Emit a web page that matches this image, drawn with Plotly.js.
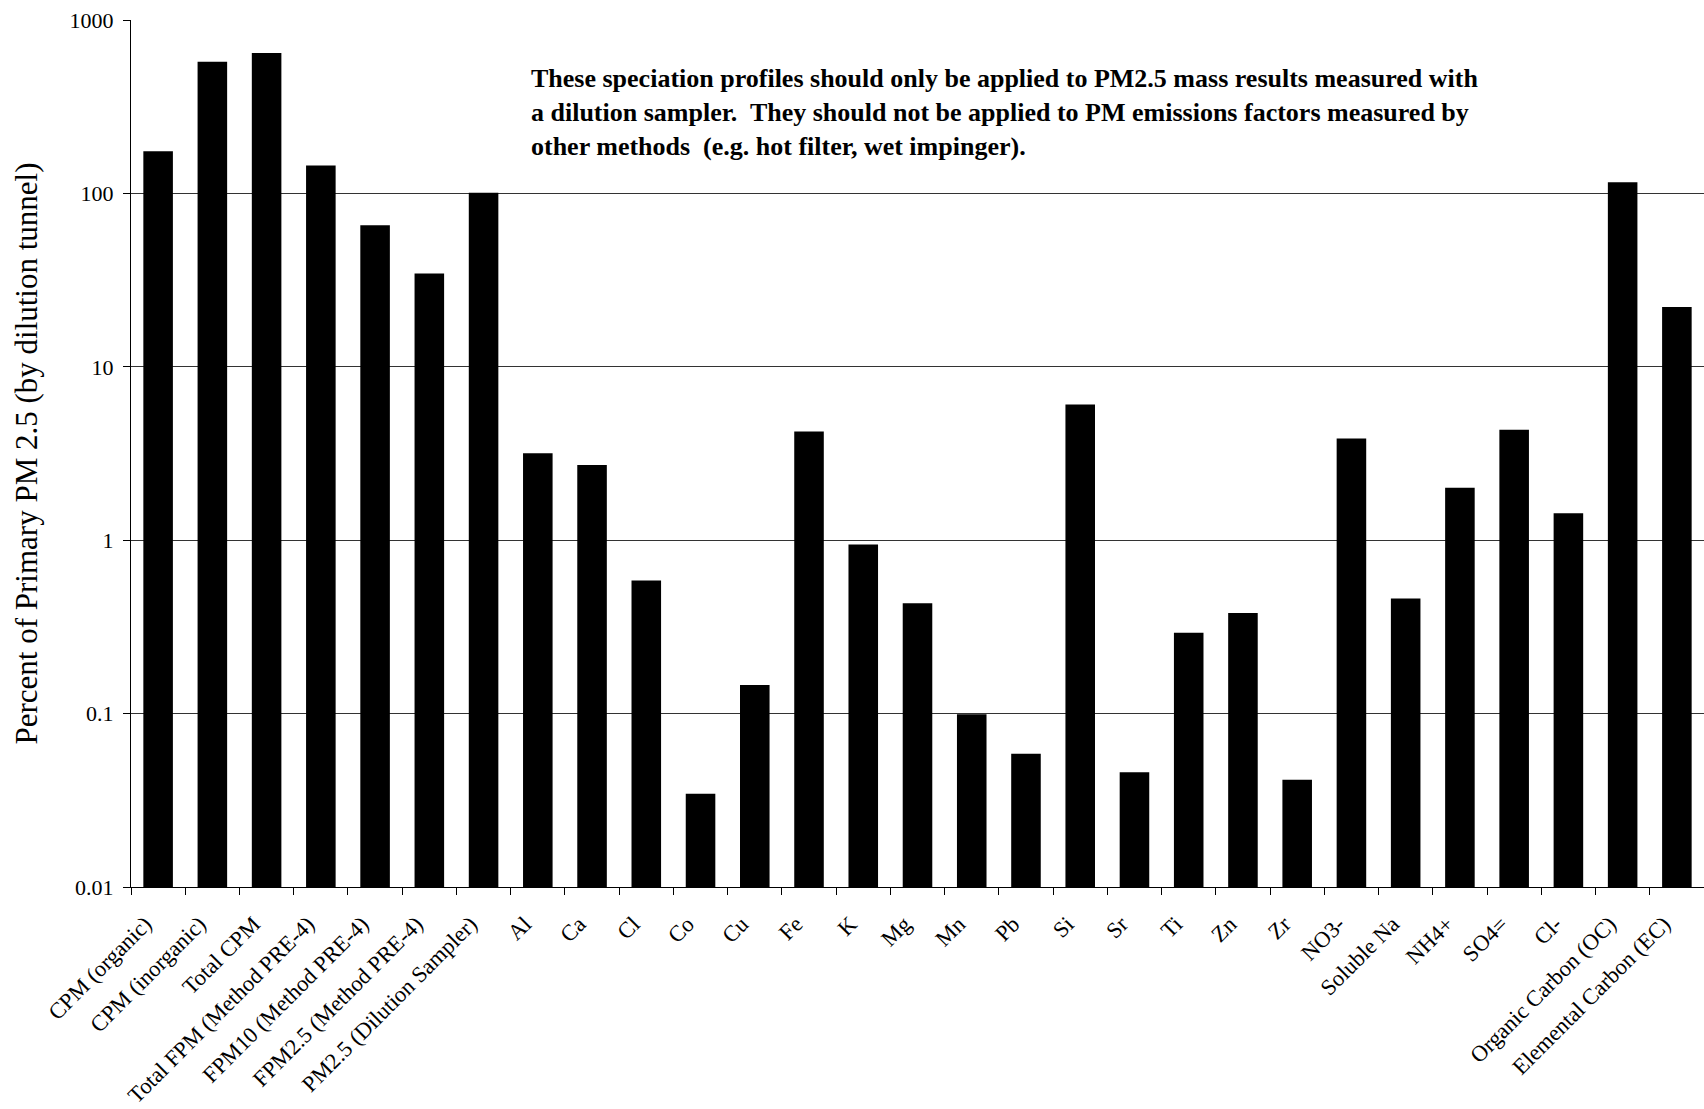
<!DOCTYPE html>
<html>
<head>
<meta charset="utf-8">
<script src="https://cdn.plot.ly/plotly-3.0.1.min.js"></script>
<style>
  html, body { margin: 0; padding: 0; background: #fff; }
  #chart { width: 1704px; height: 1109px; }
</style>
</head>
<body>
<div id="chart"></div>
<script>
// Speciation profile: species categories and their share of primary PM2.5 (%)
const categories = [
  "CPM (organic)", "CPM (inorganic)", "Total CPM", "Total FPM (Method PRE-4)",
  "FPM10 (Method PRE-4)", "FPM2.5 (Method PRE-4)", "PM2.5 (Dilution Sampler)",
  "Al", "Ca", "Cl", "Co", "Cu", "Fe", "K", "Mg", "Mn", "Pb", "Si", "Sr", "Ti",
  "Zn", "Zr", "NO3-", "Soluble Na", "NH4+", "SO4=", "Cl-",
  "Organic Carbon (OC)", "Elemental Carbon (EC)"
];

const percentOfPM25 = [
  175, 574, 645, 145, 65.5, 34.5, 101,
  3.17, 2.71, 0.586, 0.0345, 0.146, 4.23, 0.944, 0.433, 0.099, 0.0587, 6.07,
  0.0459, 0.293, 0.38, 0.0415, 3.86, 0.461, 2.01, 4.33, 1.43,
  116, 22.1
];

const yTickValues = [0.01, 0.1, 1, 10, 100, 1000];
const yTickLabels = ["0.01", "0.1", "1", "10", "100", "1000"];

const noteText =
  "<b>These speciation profiles should only be applied to PM2.5 mass results measured with<br>" +
  "a dilution sampler.  They should not be applied to PM emissions factors measured by<br>" +
  "other methods  (e.g. hot filter, wet impinger).</b>";

const serif = "\"Liberation Serif\", \"Times New Roman\", Times, serif";

const trace = {
  type: "bar",
  x: categories,
  y: percentOfPM25,
  marker: { color: "#000000", line: { width: 0 } },
  hoverinfo: "x+y"
};

const layout = {
  width: 1704,
  height: 1109,
  margin: { l: 131, r: 0, t: 20, b: 222, pad: 0 },
  paper_bgcolor: "#ffffff",
  plot_bgcolor: "#ffffff",
  showlegend: false,
  bargap: 0.455,
  font: { family: serif, color: "#000000", size: 22 },
  xaxis: {
    type: "category",
    tickangle: -45,
    ticks: "outside",
    tickson: "boundaries",
    ticklen: 7,
    tickcolor: "#000000",
    tickwidth: 1,
    ticklabelstandoff: 14,
    ticklabelshift: -13,
    showline: true,
    linecolor: "#000000",
    linewidth: 1,
    showgrid: false,
    zeroline: false,
    automargin: false,
    tickfont: { family: serif, size: 22.5, color: "#000000" }
  },
  yaxis: {
    type: "log",
    range: [-2, 3],
    tickvals: yTickValues,
    ticktext: yTickLabels,
    ticks: "outside",
    ticklen: 7,
    tickcolor: "#000000",
    tickwidth: 1,
    ticklabelstandoff: 5,
    showline: true,
    linecolor: "#000000",
    linewidth: 1,
    showgrid: true,
    gridcolor: "#333333",
    gridwidth: 1,
    zeroline: false,
    automargin: false,
    tickfont: { family: serif, size: 22, color: "#000000" },
    title: {
      text: "Percent of Primary PM 2.5 (by dilution tunnel)",
      font: { family: serif, size: 31, color: "#000000" },
      standoff: 22
    }
  },
  annotations: [{
    xref: "paper",
    yref: "paper",
    x: (529 - 131) / 1573,
    y: 1 - (62 - 20) / 867,
    xanchor: "left",
    yanchor: "top",
    align: "left",
    showarrow: false,
    text: noteText,
    font: { family: serif, size: 26, color: "#000000" }
  }]
};

Plotly.newPlot("chart", [trace], layout, { displayModeBar: false, staticPlot: true });
</script>
</body>
</html>
